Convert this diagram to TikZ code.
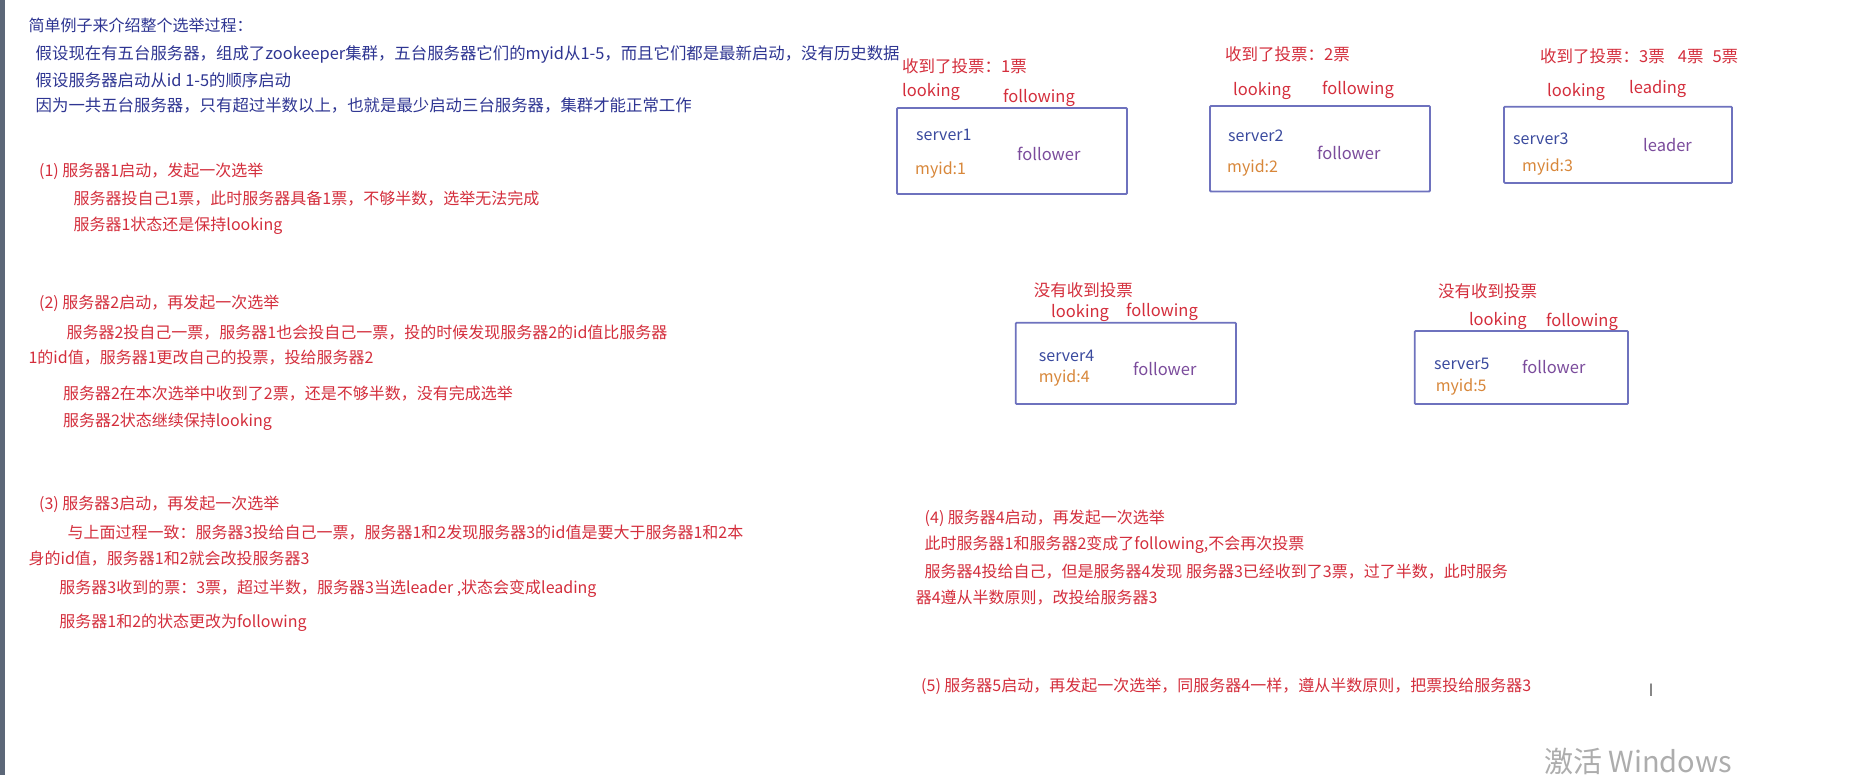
\documentclass[tikz,border=0pt]{standalone}
\usepackage{fontspec}
\setmainfont{Noto Sans CJK SC}
\definecolor{tblue}{HTML}{2E3592}
\definecolor{tred}{HTML}{D42E3C}
\definecolor{sblue}{HTML}{3A4A9E}
\definecolor{fpurple}{HTML}{7B4C9C}
\definecolor{morange}{HTML}{D8873A}
\definecolor{boxc}{HTML}{6E72BE}
\definecolor{barc}{HTML}{5C6778}
\tikzset{
  txt/.style={anchor=west, inner sep=0pt, font=\fontsize{16}{19}\selectfont},
  bt/.style={txt, text=tblue, font=\fontsize{16.4}{19}\selectfont},
  rt/.style={txt, text=tred},
  lt/.style={txt, text=tred, font=\fontsize{16.5}{19}\selectfont},
  st/.style={txt, text=sblue},
  ft/.style={txt, text=fpurple, font=\fontsize{16.5}{19}\selectfont},
  mt/.style={txt, text=morange},
  srvbox/.style={draw=boxc, line width=1.8pt, rounded corners=1pt},
}
\begin{document}
\begin{tikzpicture}[x=1pt,y=-1pt]
\fill[white] (0,0) rectangle (1857,775);
\useasboundingbox (0,0) rectangle (1857,775);
\fill[barc] (0,0) rectangle (4.5,775);

% left column
\node[bt, font=\fontsize{16}{19}\selectfont] (h0) at (28.4,24.9) {简单例子来介绍整个选举过程：};
\node[bt] (h1) at (35.5,54.5) {假设现在有五台服务器，组成了zookeeper集群，五台服务器它们的myid从1-5，而且它们都是最新启动，没有历史数据};
\node[bt] (h2) at (35.5,80.5) {假设服务器启动从id 1-5的顺序启动};
\node[bt] (h3) at (35.5,105.4) {因为一共五台服务器，只有超过半数以上，也就是最少启动三台服务器，集群才能正常工作};

\node[rt] (p1) at (39,171.7) {(1)\ 服务器1启动，发起一次选举};
\node[rt] (p1a) at (73.4,199) {服务器投自己1票，此时服务器具备1票，不够半数，选举无法完成};
\node[rt] (p1b) at (73.4,226.2) {服务器1状态还是保持looking};

\node[rt] (p2) at (39,303.2) {(2)\ 服务器2启动，再发起一次选举};
\node[rt] (p2a) at (66.3,332.5) {服务器2投自己一票，服务器1也会投自己一票，投的时候发现服务器2的id值比服务器};
\node[rt] (p2b) at (28.4,357.7) {1的id值，服务器1更改自己的投票，投给服务器2};
\node[rt] (p2c) at (62.8,393.2) {服务器2在本次选举中收到了2票，还是不够半数，没有完成选举};
\node[rt] (p2d) at (62.8,421.6) {服务器2状态继续保持looking};

\node[rt] (p3) at (39,504.5) {(3)\ 服务器3启动，再发起一次选举};
\node[rt] (p3a) at (67.5,532.5) {与上面过程一致：服务器3投给自己一票，服务器1和2发现服务器3的id值是要大于服务器1和2本};
\node[rt] (p3b) at (28.4,559) {身的id值，服务器1和2就会改投服务器3};
\node[rt] (p3c) at (59.2,588.6) {服务器3收到的票：3票，超过半数，服务器3当选leader ,状态会变成leading};
\node[rt] (p3d) at (59.2,623) {服务器1和2的状态更改为following};

% server 1
\node[lt] (v1) at (902,66.7) {收到了投票：1票};
\node[lt] (lk1) at (902,91.7) {looking};
\node[lt] (fw1) at (1003,98) {following};
\draw[srvbox] (897,108) rectangle (1127,194);
\node[st] (s1) at (916,135) {server1};
\node[ft] (f1) at (1017,154) {follower};
\node[mt] (m1) at (915,170) {myid:1};

% server 2
\node[lt] (v2) at (1225,54) {收到了投票：2票};
\node[lt] (lk2) at (1233,90.7) {looking};
\node[lt] (fw2) at (1322,90) {following};
\draw[srvbox] (1210,106) rectangle (1430,191.5);
\node[st] (s2) at (1228,136) {server2};
\node[ft] (f2) at (1317,153) {follower};
\node[mt] (m2) at (1227,168) {myid:2};

% server 3
\node[lt] (v3) at (1540,56.7) {收到了投票：3票\hspace{13pt}4票\hspace{9pt}5票};
\node[lt] (lk3) at (1547,91.7) {looking};
\node[lt] (ld3) at (1629,89) {leading};
\draw[srvbox] (1504,106.7) rectangle (1732,183);
\node[st] (s3) at (1513,139) {server3};
\node[ft] (f3) at (1643,145) {leader};
\node[mt] (m3) at (1522,167) {myid:3};

% server 4
\node[lt] (n4) at (1033.6,290.7) {没有收到投票};
\node[lt] (lk4) at (1051,312.7) {looking};
\node[lt] (fw4) at (1126,311.7) {following};
\draw[srvbox] (1015.7,322.7) rectangle (1236,404);
\node[st] (s4) at (1038.7,356) {server4};
\node[ft] (f4) at (1133,369.3) {follower};
\node[mt] (m4) at (1038.7,378.3) {myid:4};

% server 5
\node[lt] (n5) at (1438,291.7) {没有收到投票};
\node[lt] (lk5) at (1468.8,320.7) {looking};
\node[lt] (fw5) at (1546,321.7) {following};
\draw[srvbox] (1414.7,331) rectangle (1628,404);
\node[st] (s5) at (1434,364) {server5};
\node[ft] (f5) at (1522,366.7) {follower};
\node[mt] (m5) at (1435.6,387.3) {myid:5};

% steps 4 and 5
\node[rt] (p4) at (924.5,518) {(4)\ 服务器4启动，再发起一次选举};
\node[rt] (p4a) at (924.5,545) {此时服务器1和服务器2变成了following,不会再次投票};
\node[rt] (p4b) at (924.5,571.7) {服务器4投给自己，但是服务器4发现 服务器3已经收到了3票，过了半数，此时服务};
\node[rt] (p4c) at (915.6,597.3) {器4遵从半数原则，改投给服务器3};
\node[rt] (p5) at (921,686.7) {(5)\ 服务器5启动，再发起一次选举，同服务器4一样，遵从半数原则，把票投给服务器3};

\node[anchor=center, inner sep=0pt, text=gray!80!black, font=\fontsize{17}{18}\selectfont] (cur) at (1651,690) {I};
\node[anchor=west, inner sep=0pt, text=black!32, font=\fontsize{29}{32}\selectfont] (wm) at (1544,761.7) {激活 Windows};
\end{tikzpicture}
\end{document}
